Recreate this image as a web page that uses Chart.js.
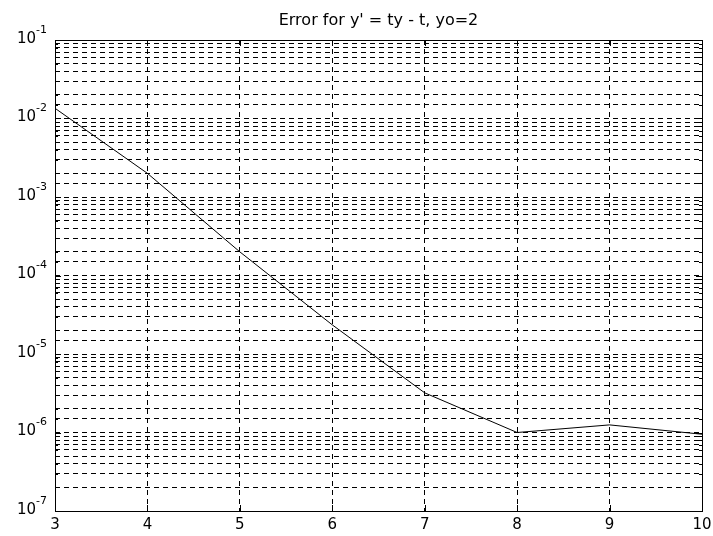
<!DOCTYPE html>
<html>
<head>
<meta charset="utf-8">
<script src="https://cdn.jsdelivr.net/npm/chart.js@4/dist/chart.umd.min.js"></script>
<style>
  html, body { margin: 0; padding: 0; background: #fff; }
  #wrap { width: 713px; height: 536px; position: relative; }
</style>
</head>
<body>
<div id="wrap"><canvas id="c"></canvas></div>
<script>
// time steps and the error of the numerical solution at each one
const tValues   = [3, 4, 5, 6, 7, 8, 9, 10];
const errValues = [1.35e-2, 2.0e-3, 2.0e-4, 2.35e-5, 3.2e-6, 1.0e-6, 1.25e-6, 9.5e-7];
const xTickValues = [3, 4, 5, 6, 7, 8, 9, 10];
const yExponents  = [-7, -6, -5, -4, -3, -2, -1];
const titleText = "Error for y' = ty - t, yo=2";

const FONT = '"DejaVu Sans", "Liberation Sans", sans-serif';

// frame, inward tick marks, power-of-ten labels and title
const axesDecor = {
  id: 'axesDecor',
  afterDraw(chart) {
    const { ctx, chartArea: a, scales } = chart;
    const xs = scales.x, ys = scales.y;
    ctx.save();
    ctx.strokeStyle = '#000';
    ctx.lineWidth = 1;
    ctx.setLineDash([]);
    ctx.strokeRect(Math.round(a.left) + 0.5, Math.round(a.top) + 0.5,
                   Math.round(a.right - a.left), Math.round(a.bottom - a.top));

    ctx.beginPath();
    xTickValues.forEach(v => {
      const px = Math.round(xs.getPixelForValue(v)) + 0.5;
      ctx.moveTo(px, a.bottom); ctx.lineTo(px, a.bottom - 6);
      ctx.moveTo(px, a.top);    ctx.lineTo(px, a.top + 6);
    });
    ys.ticks.forEach(t => {
      const py = Math.round(ys.getPixelForValue(t.value)) + 0.5;
      const major = Math.abs(Math.log10(t.value) - Math.round(Math.log10(t.value))) < 1e-6;
      const len = major ? 6 : 3;
      ctx.moveTo(a.left, py);  ctx.lineTo(a.left + len, py);
      ctx.moveTo(a.right, py); ctx.lineTo(a.right - len, py);
    });
    ctx.stroke();

    ctx.fillStyle = '#000';
    yExponents.forEach(e => {
      const py = ys.getPixelForValue(Math.pow(10, e));
      const expTxt = String(e);
      ctx.font = '11px ' + FONT;
      const ew = ctx.measureText(expTxt).width;
      ctx.textAlign = 'right';
      ctx.textBaseline = 'middle';
      ctx.fillText(expTxt, a.left - 8, py - 10);
      ctx.font = '15px ' + FONT;
      ctx.fillText('10', a.left - 8 - ew, py - 1);
    });

    ctx.font = '16px ' + FONT;
    ctx.textAlign = 'center';
    ctx.textBaseline = 'middle';
    ctx.fillText(titleText, (a.left + a.right) / 2, 21);
    ctx.restore();
  }
};

new Chart(document.getElementById('c'), {
  type: 'line',
  data: {
    datasets: [{
      data: tValues.map((t, i) => ({ x: t, y: errValues[i] })),
      borderColor: '#000',
      borderWidth: 1,
      pointRadius: 0,
      tension: 0,
      fill: false
    }]
  },
  options: {
    responsive: true,
    maintainAspectRatio: false,
    animation: false,
    devicePixelRatio: 1,
    layout: { padding: { top: 40, right: 11, left: 0, bottom: 0 } },
    plugins: { legend: { display: false }, tooltip: { enabled: false }, title: { display: false } },
    scales: {
      x: {
        type: 'linear',
        min: 3, max: 10,
        afterFit(s) { s.height = 25; s.paddingLeft = 0; s.paddingRight = 0; },
        afterBuildTicks(s) { s.ticks = xTickValues.map(v => ({ value: v })); },
        ticks: { color: '#000', font: { family: FONT, size: 15 }, padding: 5, autoSkip: false, maxRotation: 0 },
        grid: { color: '#000', lineWidth: 1, drawTicks: false },
        border: { display: false, dash: [5, 4] }
      },
      y: {
        type: 'logarithmic',
        min: 1e-7, max: 1e-1,
        afterFit(s) { s.width = 55; s.paddingTop = 0; s.paddingBottom = 0; },
        ticks: { display: false, autoSkip: false, callback: () => '' },
        grid: { color: '#000', lineWidth: 1, drawTicks: false },
        border: { display: false, dash: [5, 4] }
      }
    }
  },
  plugins: [axesDecor]
});
</script>
</body>
</html>
